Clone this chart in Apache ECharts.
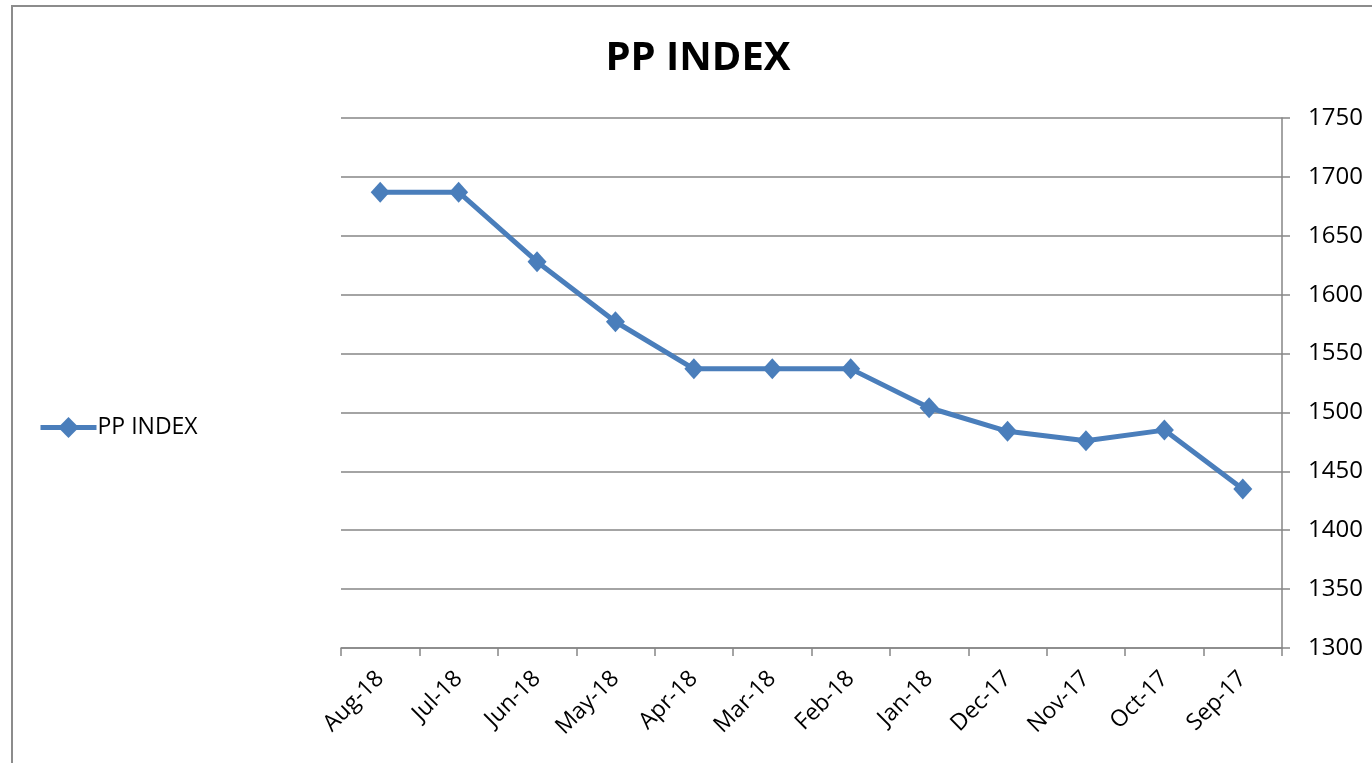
<!DOCTYPE html>
<html lang="en">
<head>
  <meta charset="UTF-8">
  <title>PP INDEX</title>
  <script src="https://cdn.jsdelivr.net/npm/echarts/dist/echarts.min.js"></script>
  <style>
    html, body { margin: 0; padding: 0; background: #fff; }
    #chart { width: 1372px; height: 763px; }
  </style>
</head>
<body>
  <div id="chart"></div>
  <script>
    // data
    const months = ['Aug-18', 'Jul-18', 'Jun-18', 'May-18', 'Apr-18', 'Mar-18',
                    'Feb-18', 'Jan-18', 'Dec-17', 'Nov-17', 'Oct-17', 'Sep-17'];
    const ppIndex = [1687, 1687, 1628, 1577, 1537, 1537, 1537, 1504, 1484, 1476, 1485, 1435];
    const yMin = 1300, yMax = 1750, yStep = 50;

    const gray = '#868686';
    const blue = '#4a7ebb';
    const font = '"Open Sans", "Liberation Sans", sans-serif';

    const chart = echarts.init(document.getElementById('chart'));
    chart.setOption({
      animation: false,
      textStyle: { fontFamily: font },
      title: {
        text: 'PP INDEX',
        left: 693,
        top: 34,
        textAlign: 'center',
        textStyle: { fontSize: 40, fontWeight: 'bold', color: '#000', fontFamily: font }
      },
      legend: {
        left: 38,
        top: 416,
        padding: 0,
        orient: 'vertical',
        itemWidth: 56,
        itemHeight: 26,
        itemGap: 4,
        lineStyle: { width: 5 },
        textStyle: { fontSize: 23, color: '#000', fontFamily: font, padding: [0, 0, 0, -4] },
        data: ['PP INDEX']
      },
      graphic: [{
        type: 'rect',
        shape: { x: 12, y: 6, width: 1400, height: 800 },
        style: { fill: 'none', stroke: '#8c8c8c', lineWidth: 2 },
        silent: true
      }],
      grid: { left: 341, right: 90, top: 118, bottom: 115 },
      xAxis: {
        type: 'category',
        data: months,
        boundaryGap: true,
        axisLine: { show: true, lineStyle: { color: gray, width: 1.5 } },
        axisTick: { show: true, length: 8, lineStyle: { color: gray, width: 1.5 } },
        axisLabel: { rotate: 45, fontSize: 23, color: '#000', fontFamily: font, margin: 27 },
        splitLine: { show: false }
      },
      yAxis: {
        type: 'value',
        position: 'right',
        min: yMin,
        max: yMax,
        interval: yStep,
        axisLine: { show: true, lineStyle: { color: gray, width: 1.5 } },
        axisTick: { show: true, length: 8, lineStyle: { color: gray, width: 1.5 } },
        axisLabel: { fontSize: 24, color: '#000', fontFamily: font, margin: 26,
                     formatter: v => String(v) },
        splitLine: { show: true, lineStyle: { color: gray, width: 1.5 } }
      },
      series: [{
        name: 'PP INDEX',
        type: 'line',
        data: ppIndex,
        symbol: 'diamond',
        symbolSize: [19, 21],
        lineStyle: { color: blue, width: 5 },
        itemStyle: { color: blue }
      }]
    });
  </script>
</body>
</html>
